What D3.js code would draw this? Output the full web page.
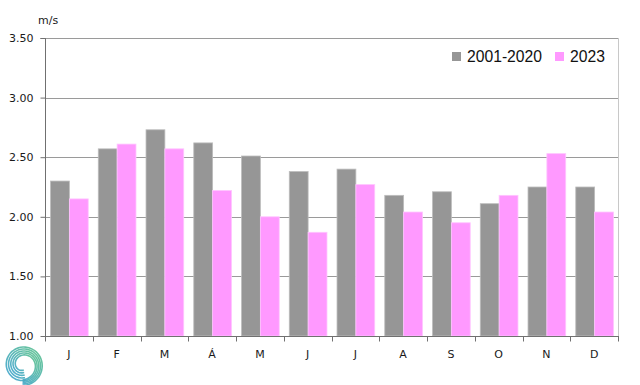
<!DOCTYPE html>
<html><head><meta charset="utf-8">
<script src="https://cdn.jsdelivr.net/npm/d3@7"></script>
<style>body{margin:0;background:#fff}svg{display:block}</style>
</head><body>
<svg id="c" width="640" height="385"></svg>
<script>
const months = ["J","F","M","Á","M","J","J","A","S","O","N","D"];
const seriesNames = ["2001-2020","2023"];
const avg = [2.30,2.57,2.73,2.62,2.51,2.38,2.40,2.18,2.21,2.11,2.25,2.25];
const y2023 = [2.15,2.61,2.57,2.22,2.00,1.87,2.27,2.04,1.95,2.18,2.53,2.04];
const yTicks = [1.00,1.50,2.00,2.50,3.00,3.50];
const colors = ["#969696","#ff99ff"];

const svg = d3.select("#c");
const L=45,R=618,T=38,B=336;
const x = d3.scaleBand().domain(d3.range(12)).range([L,R]).paddingInner(0).paddingOuter(0);
const x1 = d3.scaleBand().domain([0,1]).range([1,x.bandwidth()]).paddingOuter(0.24).paddingInner(0);
const y = d3.scaleLinear().domain([1,3.5]).range([B,T]);

// gridlines
svg.append("g").selectAll("line").data(yTicks.slice(1)).join("line")
  .attr("x1",L).attr("x2",R).attr("y1",d=>Math.round(y(d))+0.5).attr("y2",d=>Math.round(y(d))+0.5)
  .attr("stroke","#9a9a9a").attr("stroke-width",1);
// right border
svg.append("line").attr("x1",R+0.5).attr("x2",R+0.5).attr("y1",T).attr("y2",B)
  .attr("stroke","#c8c8c8");

const data = months.map((m,i)=>({i,vals:[avg[i],y2023[i]]}));
const g = svg.append("g");
data.forEach(d=>{
  d.vals.forEach((v,k)=>{
    g.append("rect")
      .attr("x",x(d.i)+x1(k)).attr("width",x1.bandwidth())
      .attr("y",y(v)).attr("height",B-y(v))
      .attr("fill",colors[k]).attr("stroke",k?"#ffc4ff":"#bdbdbd").attr("stroke-width",0.8);
  });
});

// y axis
const ya = svg.append("g").attr("transform",`translate(${L+0.5},0)`)
  .call(d3.axisLeft(y).tickValues(yTicks).tickFormat(d3.format(".2f")).tickSize(5).tickPadding(7));
ya.select(".domain").attr("stroke","#707070").attr("d",`M-5,${T+0.5}H0V${B}`);
ya.selectAll(".tick line").attr("stroke","#707070");
ya.selectAll(".tick text").attr("font-family","DejaVu Sans, sans-serif").attr("font-size","11px").attr("fill","#1a1a1a");

// x axis
const xa = svg.append("g").attr("transform",`translate(0,${B+0.5})`);
xa.append("line").attr("x1",L).attr("x2",R+1).attr("stroke","#707070");
xa.selectAll("line.t").data(d3.range(13)).join("line").attr("class","t")
  .attr("x1",i=>Math.round(L+i*x.bandwidth())+0.5).attr("x2",i=>Math.round(L+i*x.bandwidth())+0.5)
  .attr("y1",0).attr("y2",5).attr("stroke","#707070");
xa.selectAll("text").data(months).join("text")
  .attr("x",(d,i)=>x(i)+x.bandwidth()/2).attr("y",21)
  .attr("text-anchor","middle").attr("font-family","DejaVu Sans, sans-serif").attr("font-size","11px").attr("fill","#1a1a1a")
  .text(d=>d);

// unit
svg.append("text").attr("x",38).attr("y",24).attr("font-family","DejaVu Sans, sans-serif").attr("font-size","11px").attr("fill","#1a1a1a").text("m/s");

// legend
const leg = svg.append("g");
const legX=[452,555];
seriesNames.forEach((n,k)=>{
  leg.append("rect").attr("x",legX[k]).attr("y",52).attr("width",9).attr("height",9).attr("fill",colors[k]);
  leg.append("text").attr("x",legX[k]+15).attr("y",62).attr("font-family","Liberation Sans, Arial, sans-serif")
    .attr("font-size","15.7px").attr("fill","#111").text(n);
});

// logo swirl
const defs = svg.append("defs");
const gr = defs.append("linearGradient").attr("id","lg").attr("x1","0").attr("y1","1").attr("x2","1").attr("y2","0");
gr.append("stop").attr("offset","0").attr("stop-color","#3a9fd6");
gr.append("stop").attr("offset","1").attr("stop-color","#5cc28a");
const logo = svg.append("g").attr("transform","translate(23,365)");
[0,1,2,3,4].forEach(j=>{
  const pts=[];
  for(let t=0;t<=1;t+=0.02){
    const ang = -Math.PI*0.55 + t*Math.PI*2.1;
    const r = 5 + j*2.6 + t*(10 - j*1.2);
    pts.push([r*Math.cos(ang+Math.PI), r*Math.sin(ang+Math.PI)]);
  }
  logo.append("path").attr("d",d3.line().curve(d3.curveBasis)(pts))
    .attr("fill","none").attr("stroke","url(#lg)").attr("stroke-width",1.6).attr("opacity",0.9);
});
</script>
</body></html>
